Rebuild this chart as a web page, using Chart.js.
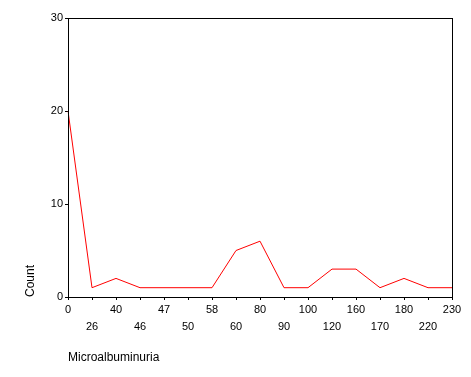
<!DOCTYPE html>
<html>
<head>
<meta charset="utf-8">
<script src="https://cdn.jsdelivr.net/npm/chart.js@4"></script>
<style>
  body { margin: 0; background: #fff; }
  canvas { display: block; }
</style>
</head>
<body>
<canvas id="chart" width="471" height="377"></canvas>
<script>
const categories = ["0", "26", "40", "46", "47", "50", "58", "60", "80", "90", "100", "120", "160", "170", "180", "220", "230"];
const counts = [20, 1, 2, 1, 1, 1, 1, 5, 6, 1, 1, 3, 3, 1, 2, 1, 1];
const yTicks = [0, 10, 20, 30];

// 그래프 영역 테두리
const frame = {
  id: "frame",
  afterDraw(chart) {
    const { ctx, chartArea } = chart;
    ctx.save();
    ctx.strokeStyle = "#000";
    ctx.lineWidth = 1;
    ctx.strokeRect(chartArea.left + 0.5, chartArea.top + 0.5, chartArea.right - chartArea.left, chartArea.bottom - chartArea.top);
    ctx.restore();
  },
};

const ctx = document.getElementById("chart").getContext("2d");
new Chart(ctx, {
  type: "line",
  data: {
    labels: categories,
    datasets: [
      {
        data: counts,
        borderColor: "#ff0000",
        borderWidth: 1,
        pointRadius: 0,
        tension: 0,
        fill: false,
      },
    ],
  },
  options: {
    responsive: false,
    animation: false,
    layout: { padding: { left: 0, top: 18, right: 19, bottom: 0 } },
    plugins: { legend: { display: false }, tooltip: { enabled: false } },
    scales: {
      x: {
        offset: false,
        afterFit: (s) => { s.height = 80; },
        grid: { drawOnChartArea: false, tickLength: 3, color: "#000" },
        border: { color: "#000" },
        ticks: {
          color: "#000",
          font: { family: "Liberation Sans", size: 11, lineHeight: 1.5 },
          maxRotation: 0,
          autoSkip: false,
          padding: 2,
          callback: (v, i) => (i % 2 === 0 ? [categories[i], ""] : ["", categories[i]]),
        },
        title: {
          display: true,
          text: "Microalbuminuria",
          align: "start",
          color: "#000",
          font: { family: "Liberation Sans", size: 12 },
          padding: { top: 0, bottom: 12 },
        },
      },
      y: {
        min: 0,
        max: 30,
        afterFit: (s) => { s.width = 68; },
        afterBuildTicks: (s) => { s.ticks = yTicks.map((v) => ({ value: v })); },
        grid: { drawOnChartArea: false, tickLength: 3, color: "#000" },
        border: { color: "#000" },
        ticks: {
          color: "#000",
          font: { family: "Liberation Sans", size: 11 },
          padding: 2,
        },
        title: {
          display: true,
          text: "Count",
          align: "start",
          color: "#000",
          font: { family: "Liberation Sans", size: 12 },
          padding: { top: 23, bottom: 0 },
        },
      },
    },
  },
  plugins: [frame],
});
</script>
</body>
</html>
